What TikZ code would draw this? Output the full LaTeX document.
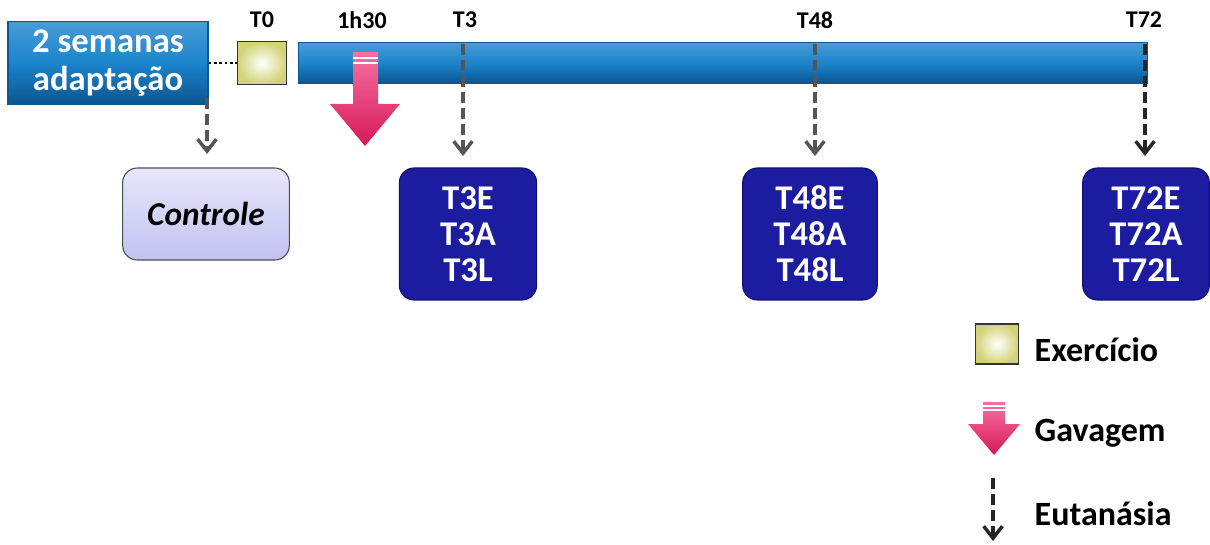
\documentclass[tikz,border=0pt]{standalone}
\usepackage{fontspec}
\setmainfont{Carlito}
\usetikzlibrary{arrows.meta,shadows}
\definecolor{barblue}{HTML}{1B84CC}
\definecolor{bardark}{HTML}{0D5590}
\definecolor{boxblue}{HTML}{1C1CA0}
\definecolor{boxdark}{HTML}{10106E}
\definecolor{pinkA}{HTML}{F0357A}
\definecolor{pinkB}{HTML}{D81858}
\definecolor{arrgray}{HTML}{555555}
\definecolor{lav}{HTML}{C2C2F2}
\tikzset{
  x=0.75pt,y=-0.75pt,
  bar/.style={draw=bardark,line width=0.8pt,top color=barblue!80!white,bottom color=bardark,middle color=barblue},
  tlabel/.style={font=\bfseries\fontsize{18}{20}\selectfont,text=black},
  grp/.style={draw=boxdark,line width=0.8pt,rounded corners=11pt,fill=boxblue,text=white,
    font=\bfseries\fontsize{26}{27}\selectfont,align=center,minimum height=99pt,inner sep=0pt},
  euth/.style={draw=arrgray,line width=3.2pt,dash pattern=on 8pt off 4pt,-{Straight Barb[length=9pt,width=14pt,line width=2.6pt]}},
  exbox/.style={draw=black!80,line width=1.2pt,inner color=white,outer color=olive!35!white},
  legtext/.style={font=\bfseries\fontsize{25.5}{27}\selectfont,anchor=west},
}
\begin{document}
\begin{tikzpicture}
\useasboundingbox (0,0) rectangle (1210,545);
% adaptation box
\node[bar,draw=bardark,rectangle,minimum width=150pt,minimum height=62pt,inner sep=0pt,
  text=white,font=\bfseries\fontsize{26}{29}\selectfont,align=center] (adapt) at (108,63) {2 semanas\\adaptação};
% T0 square
\node[exbox,minimum width=37pt,minimum height=32pt,inner sep=0pt] (t0) at (262,63) {};
\draw[line width=2pt,dotted] (adapt.east |- 0,63) -- (t0.west);
% timeline bar
\node[bar,rectangle,minimum width=637pt,minimum height=31pt,inner sep=0pt] (bar) at (723,63) {};
% top labels
\node[tlabel] (lt0) at (262,20) {T0};
\node[tlabel] (lh) at (362,20) {1h30};
\node[tlabel] (lt3) at (465,20) {T3};
\node[tlabel] (lt48) at (815,20) {T48};
\node[tlabel] (lt72) at (1144,20) {T72};
% gavage arrow
\shade[top color=pinkA!70!white,bottom color=pinkB] (353,52) -- (378,52) -- (378,104) -- (400,104) -- (365,146) -- (330,104) -- (353,104) -- cycle;
\draw[white,line width=1.2pt] (353,58) -- (378,58) (353,63) -- (378,63);
% group boxes
\node[draw=black!70,line width=0.8pt,rounded corners=11pt,top color=lav!40!white,bottom color=lav,
  minimum width=125pt,minimum height=69pt,inner sep=0pt,
  font=\bfseries\itshape\fontsize{25}{27}\selectfont] (ctrl) at (206,214) {Controle};
\node[grp,minimum width=103pt] (g3) at (468,234) {T3E\\T3A\\T3L};
\node[grp,minimum width=101pt] (g48) at (810,234) {T48E\\T48A\\T48L};
\node[grp,minimum width=95pt] (g72) at (1146,234) {T72E\\T72A\\T72L};
% euthanasia arrows
\coordinate (s0) at (207,98);
\coordinate (s3) at (463,44);
\coordinate (s48) at (815,44);
\coordinate (s72) at (1145,44);
\draw[euth] (s0) -- (207,154);
\draw[euth] (s3) -- (463,156);
\draw[euth] (s48) -- (815,156);
\draw[euth,draw=black!85] (s72) -- (1145,156);
% legend
\node[exbox,minimum width=32pt,minimum height=30pt,inner sep=0pt] (lex) at (997,344) {};
\node[legtext] (tex) at (1030,350) {Exercício};
\shade[top color=pinkA!70!white,bottom color=pinkB] (983,402) -- (1005,402) -- (1005,424) -- (1020,424) -- (994,455) -- (968,424) -- (983,424) -- cycle;
\draw[white,line width=1pt] (983,406) -- (1005,406) (983,410) -- (1005,410);
\node[legtext] (tgv) at (1030,433) {Gavagem};
\coordinate (le) at (993,478);
\draw[euth,draw=black!85] (le) -- (993,541);
\node[legtext] (teu) at (1030,514) {Eutanásia};
\end{tikzpicture}
\end{document}
